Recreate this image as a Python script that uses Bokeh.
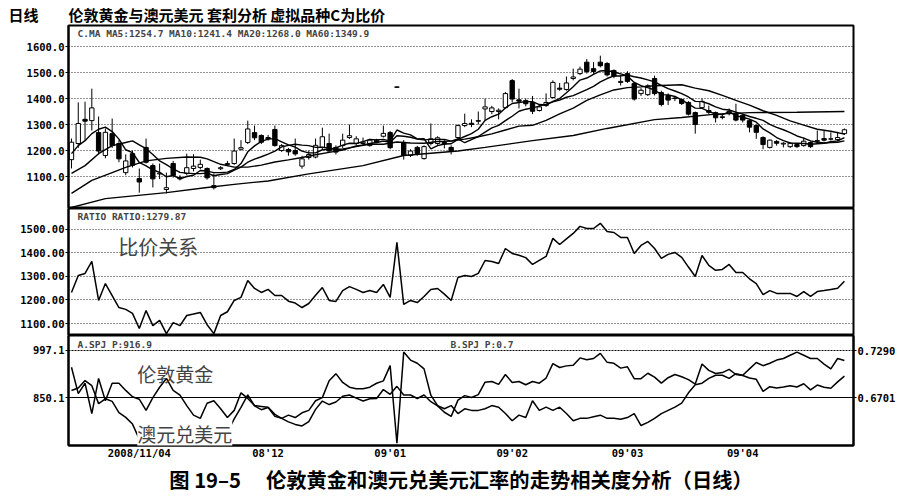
from bokeh.plotting import figure
from bokeh.models import (Range1d, LinearAxis, FixedTicker, NumeralTickFormatter,
                          Label, Span, ColumnDataSource, Title)
from bokeh.layouts import column
from bokeh.embed import file_html
from bokeh.resources import INLINE

# ---------------- data ----------------
close = [1232, 1304, 1313, 1364, 1198, 1270, 1219, 1168, 1160, 1143,
         1079, 1155, 1091, 1113, 1057, 1104, 1091, 1134, 1140, 1147,
         1095, 1057, 1134, 1150, 1198, 1211, 1283, 1249, 1232, 1245,
         1219, 1219, 1195, 1187, 1168, 1185, 1220, 1253, 1198, 1194,
         1240, 1257, 1245, 1232, 1240, 1232, 1266, 1211, 1445, 1181,
         1198, 1189, 1215, 1245, 1249, 1225, 1198, 1296, 1304, 1300,
         1313, 1368, 1364, 1355, 1419, 1398, 1390, 1380, 1351, 1368,
         1385, 1462, 1436, 1460, 1483, 1513, 1504, 1504, 1526, 1491,
         1487, 1466, 1466, 1398, 1432, 1449, 1419, 1377, 1394, 1402,
         1381, 1340, 1300, 1389, 1347, 1326, 1330, 1351, 1317, 1317,
         1290, 1270, 1223, 1240, 1228, 1228, 1228, 1215, 1236, 1215,
         1236, 1240, 1245, 1250, 1280]
opens = [1165, 1227, 1320, 1315, 1269, 1181, 1265, 1227, 1115, 1188,
         1092, 1212, 1142, 1110, 1050, 1150, 1097, 1112, 1131, 1135,
         1131, 1065, 1130, 1146, 1150, 1205, 1231, 1269, 1258, 1250,
         1281, 1200, 1204, 1200, 1140, 1173, 1175, 1212, 1227, 1212,
         1219, 1250, 1227, 1227, 1219, 1240, 1255, 1269, 1443, 1231,
         1181, 1212, 1169, 1227, 1227, 1231, 1212, 1250, 1296, 1305,
         1315, 1360, 1350, 1350, 1365, 1469, 1395, 1392, 1385, 1354,
         1373, 1404, 1440, 1435, 1477, 1496, 1540, 1515, 1540, 1535,
         1508, 1462, 1496, 1458, 1419, 1415, 1477, 1423, 1412, 1400,
         1396, 1385, 1346, 1365, 1354, 1346, 1327, 1342, 1342, 1335,
         1315, 1296, 1250, 1212, 1235, 1225, 1215, 1223, 1219, 1231,
         1238, 1246, 1244, 1242, 1265]
highs = [1246, 1385, 1388, 1438, 1331, 1285, 1323, 1240, 1185, 1200,
         1131, 1246, 1150, 1150, 1115, 1160, 1105, 1188, 1186, 1165,
         1135, 1112, 1140, 1160, 1246, 1240, 1315, 1296, 1262, 1260,
         1296, 1225, 1210, 1246, 1180, 1200, 1246, 1288, 1265, 1220,
         1265, 1300, 1255, 1250, 1245, 1245, 1296, 1275, 1446, 1240,
         1205, 1218, 1220, 1304, 1255, 1240, 1220, 1300, 1342, 1320,
         1350, 1400, 1372, 1362, 1425, 1475, 1438, 1400, 1410, 1375,
         1420, 1470, 1460, 1485, 1515, 1523, 1552, 1540, 1565, 1540,
         1512, 1490, 1505, 1462, 1440, 1455, 1488, 1430, 1420, 1410,
         1400, 1390, 1350, 1400, 1373, 1350, 1340, 1362, 1380, 1340,
         1320, 1300, 1255, 1242, 1240, 1232, 1232, 1228, 1250, 1235,
         1277, 1275, 1270, 1272, 1285]
lows = [1131, 1210, 1238, 1277, 1185, 1170, 1210, 1155, 1105, 1135,
        1038, 1150, 1058, 1090, 1035, 1096, 1085, 1105, 1120, 1128,
        1088, 1050, 1125, 1140, 1145, 1200, 1225, 1240, 1225, 1238,
        1215, 1195, 1180, 1180, 1130, 1165, 1170, 1205, 1195, 1185,
        1210, 1245, 1220, 1220, 1215, 1228, 1250, 1205, 1441, 1165,
        1175, 1180, 1165, 1220, 1222, 1208, 1185, 1245, 1290, 1290,
        1300, 1315, 1340, 1320, 1360, 1385, 1362, 1370, 1340, 1350,
        1368, 1400, 1430, 1430, 1470, 1490, 1496, 1495, 1520, 1485,
        1478, 1450, 1460, 1392, 1410, 1410, 1412, 1370, 1375, 1390,
        1375, 1335, 1265, 1360, 1340, 1308, 1320, 1335, 1312, 1308,
        1270, 1245, 1205, 1208, 1219, 1212, 1210, 1210, 1215, 1210,
        1230, 1235, 1238, 1236, 1260]

ma5 = [1188, 1219, 1238, 1265, 1282, 1290, 1273, 1244, 1203, 1192,
       1154, 1141, 1126, 1116, 1099, 1104, 1091, 1100, 1105, 1123,
       1121, 1115, 1115, 1117, 1127, 1150, 1195, 1218, 1235, 1244,
       1246, 1233, 1222, 1213, 1198, 1191, 1191, 1203, 1205, 1210,
       1221, 1228, 1227, 1234, 1243, 1241, 1243, 1236, 1279, 1267,
       1260, 1245, 1246, 1206, 1219, 1225, 1226, 1243, 1254, 1265,
       1282, 1316, 1330, 1340, 1364, 1381, 1385, 1388, 1388, 1377,
       1375, 1389, 1400, 1422, 1445, 1471, 1479, 1493, 1506, 1508,
       1502, 1495, 1487, 1462, 1450, 1442, 1433, 1415, 1414, 1408,
       1395, 1379, 1363, 1362, 1351, 1340, 1338, 1349, 1334, 1328,
       1321, 1309, 1283, 1268, 1250, 1238, 1229, 1228, 1227, 1224,
       1226, 1228, 1234, 1237, 1250]
ma10_bar = [0, 2, 4, 6, 8] + list(range(9, 115))
ma10 = [1112, 1142, 1188, 1219, 1231,
        1237, 1222, 1207, 1185, 1160, 1146, 1129, 1116, 1113, 1111,
        1111, 1113, 1103, 1108, 1111, 1125, 1136, 1155, 1167, 1176,
        1186, 1198, 1214, 1220, 1224, 1221, 1219, 1212, 1213, 1209,
        1204, 1206, 1210, 1215, 1220, 1227, 1231, 1236, 1232, 1257,
        1255, 1251, 1244, 1241, 1243, 1243, 1243, 1236, 1245, 1230,
        1242, 1254, 1271, 1287, 1297, 1315, 1332, 1351, 1359, 1364,
        1371, 1378, 1387, 1394, 1405, 1411, 1423, 1434, 1447, 1464,
        1477, 1487, 1487, 1490, 1484, 1479, 1472, 1464, 1451, 1438,
        1429, 1419, 1406, 1389, 1388, 1380, 1368, 1359, 1356, 1348,
        1340, 1331, 1324, 1316, 1301, 1289, 1280, 1269, 1256, 1248,
        1237, 1232, 1229, 1231, 1232, 1237]
ma20_bar = [0, 3, 6, 8, 11, 14, 17, 19] + list(range(20, 115, 2))
ma20 = [1035, 1085, 1115, 1135, 1160, 1170, 1175, 1174,
        1168, 1147, 1136, 1136, 1144, 1156, 1164, 1173, 1184, 1193,
        1202, 1218, 1224, 1224, 1233, 1229, 1228, 1235, 1236, 1244,
        1253, 1264, 1279, 1294, 1297, 1316, 1341, 1363, 1393, 1414,
        1433, 1442, 1445, 1449, 1451, 1453, 1440, 1430, 1412, 1393,
        1375, 1353, 1335, 1314, 1298, 1282, 1274, 1263]
ma60_bar = [0, 5, 14, 20, 24, 29, 35, 43, 49, 57, 61, 68, 74, 79, 86, 90, 95, 100, 107, 114]
ma60 = [981, 1015, 1038, 1058, 1070, 1083, 1110, 1142, 1181, 1198, 1212, 1238,
        1258, 1285, 1319, 1327, 1340, 1346, 1347, 1350]

gold = [872, 880, 903, 887, 831, 846, 838, 803, 788, 767,
        720, 755, 731, 760, 734, 750, 734, 748, 738, 739,
        726, 704, 744, 742, 783, 819, 858, 824, 812, 819,
        791, 785, 774, 766, 761, 775, 813, 839, 828, 836,
        854, 858, 848, 839, 846, 847, 875, 860, 885, 858,
        858, 847, 858, 837, 824, 804, 791, 842, 856, 850,
        859, 898, 900, 891, 922, 897, 900, 890, 900, 895,
        911, 956, 944, 949, 951, 974, 968, 972, 988, 960,
        957, 942, 946, 909, 909, 926, 914, 895, 912, 922,
        915, 906, 892, 955, 935, 925, 928, 938, 922, 919,
        911, 907, 869, 884, 880, 883, 887, 883, 893, 874,
        889, 882, 879, 899, 916.9]
aud = [0.708, 0.675, 0.688, 0.650, 0.694, 0.666, 0.688, 0.688, 0.679, 0.671,
       0.668, 0.654, 0.670, 0.683, 0.694, 0.679, 0.673, 0.660, 0.648, 0.644,
       0.663, 0.666, 0.656, 0.645, 0.654, 0.676, 0.669, 0.660, 0.659, 0.658,
       0.649, 0.644, 0.648, 0.645, 0.651, 0.654, 0.666, 0.670, 0.691, 0.700,
       0.689, 0.683, 0.681, 0.681, 0.683, 0.688, 0.691, 0.710, 0.613, 0.727,
       0.717, 0.713, 0.706, 0.673, 0.660, 0.656, 0.660, 0.650, 0.656, 0.654,
       0.654, 0.656, 0.660, 0.658, 0.650, 0.641, 0.648, 0.645, 0.666, 0.654,
       0.658, 0.654, 0.658, 0.650, 0.641, 0.644, 0.644, 0.646, 0.648, 0.644,
       0.644, 0.643, 0.645, 0.650, 0.635, 0.639, 0.644, 0.650, 0.654, 0.658,
       0.663, 0.676, 0.686, 0.688, 0.694, 0.698, 0.698, 0.694, 0.700, 0.698,
       0.706, 0.714, 0.710, 0.713, 0.717, 0.719, 0.723, 0.727, 0.723, 0.719,
       0.719, 0.712, 0.706, 0.719, 0.7164]

top_ticks = [1100, 1200, 1300, 1400, 1500, 1600]
ratio_ticks = [1100, 1200, 1300, 1400, 1500]
gold_ticks = [850.1, 997.1]
aud_ticks = [0.6701, 0.7290]
month_pos = [10, 29, 47, 65, 82, 99]
month_lab = ["2008/11/04", "08'12", "09'01", "09'02", "09'03", "09'04"]

# ---------------- drawing ----------------
N = len(close)
bars = list(range(N))
XR = Range1d(-0.44, 115.34)
MONO = "DejaVu Sans Mono"
CJK = "Noto Sans CJK SC"


def style_axis(ax):
    ax.axis_line_width = 2
    ax.major_tick_out = 3
    ax.major_tick_in = 0
    ax.minor_tick_line_color = None
    ax.major_label_standoff = 1
    ax.major_label_text_font = MONO
    ax.major_label_text_font_size = "10.5px"
    ax.major_label_text_font_style = "bold"
    ax.major_label_text_color = "black"


def make_fig(h, yr, top_b=0, bot_b=0, xaxis=False):
    p = figure(frame_width=785, frame_height=h, x_range=XR, y_range=yr,
               output_backend="svg", toolbar_location=None,
               min_border_left=68, min_border_right=54,
               min_border_top=top_b, min_border_bottom=bot_b,
               x_axis_location="below" if xaxis else None)
    p.outline_line_color = "black"
    p.outline_line_width = 2
    p.background_fill_color = "white"
    p.border_fill_color = "white"
    p.xgrid.visible = False
    p.ygrid.grid_line_color = "black"
    p.ygrid.grid_line_dash = "1 2"
    p.ygrid.grid_line_alpha = 0.85
    for ax in p.yaxis:
        style_axis(ax)
    return p


# top panel: candles + MAs
p1 = make_fig(183, Range1d(977, 1681), top_b=25)
p1.yaxis.ticker = FixedTicker(ticks=top_ticks)
p1.yaxis.formatter = NumeralTickFormatter(format="0.0")
body_top = [max(o, c) for o, c in zip(opens, close)]
body_bot = [min(o, c) for o, c in zip(opens, close)]
fills = ["white" if c > o else "black" for o, c in zip(opens, close)]
src = ColumnDataSource(dict(x=bars, hi=highs, lo=lows, t=body_top, b=body_bot, f=fills))
p1.segment(x0="x", y0="hi", x1="x", y1="lo", source=src, line_color="black", line_width=1)
p1.vbar(x="x", width=0.64, top="t", bottom="b", fill_color="f", line_color="black",
        line_width=1, source=src)
for xs, ys in ((bars, ma5), (ma10_bar, ma10), (ma20_bar, ma20), (ma60_bar, ma60)):
    p1.line(xs, ys, line_color="black", line_width=1.4)
p1.add_layout(Label(x=0.9, y=1673, text="C.MA  MA5:1254.7  MA10:1241.4  MA20:1268.0  MA60:1349.9",
                    text_font=MONO, text_font_size="9.5px", text_font_style="bold",
                    text_baseline="top"))
p1.add_layout(Title(text="日线　　伦敦黄金与澳元美元 套利分析 虚拟品种C为比价",
                    align="left", offset=-60, standoff=2, text_font=CJK,
                    text_font_size="15px", text_font_style="bold", text_color="black"),
              "above")

# ratio panel
p2 = make_fig(127, Range1d(1049, 1589))
p2.yaxis.ticker = FixedTicker(ticks=ratio_ticks)
p2.yaxis.formatter = NumeralTickFormatter(format="0.00")
p2.line(bars, close, line_color="black", line_width=1.5)
p2.add_layout(Label(x=0.9, y=1577, text="RATIO  RATIO:1279.87", text_font=MONO,
                    text_font_size="9.5px", text_font_style="bold", text_baseline="top"))
p2.add_layout(Label(x=6.9, y=1428, text="比价关系", text_font=CJK, text_font_size="20px",
                    text_baseline="middle"))

# bottom panel: gold (left axis) and AUD (right axis)
p3 = make_fig(110, Range1d(700, 1044), bot_b=53, xaxis=True)
p3.extra_y_ranges = {"aud": Range1d(0.6100, 0.7478)}
p3.yaxis.ticker = FixedTicker(ticks=gold_ticks)
p3.yaxis.formatter = NumeralTickFormatter(format="0.0")
p3.ygrid.visible = False
rax = LinearAxis(y_range_name="aud", ticker=FixedTicker(ticks=aud_ticks),
                 formatter=NumeralTickFormatter(format="0.0000"))
style_axis(rax)
p3.add_layout(rax, "right")
p3.add_layout(Span(location=gold_ticks[1], dimension="width", line_color="black",
                   line_dash="2 1", line_width=1))
p3.add_layout(Span(location=gold_ticks[0], dimension="width", line_color="black",
                   line_width=1))
p3.line(bars, gold, line_color="black", line_width=1.5)
p3.line(bars, aud, y_range_name="aud", line_color="black", line_width=1.5)
xa = p3.xaxis[0]
xa.ticker = FixedTicker(ticks=month_pos)
xa.major_label_overrides = {pos: lab for pos, lab in zip(month_pos, month_lab)}
style_axis(xa)
xa.major_tick_out = 0
xa.major_label_standoff = 1
p3.add_layout(Label(x=0.9, y=1031.5, text="A.SPJ  P:916.9", text_font=MONO,
                    text_font_size="9.5px", text_font_style="bold", text_baseline="top"))
p3.add_layout(Label(x=55.9, y=1031.5, text="B.SPJ  P:0.7", text_font=MONO,
                    text_font_size="9.5px", text_font_style="bold", text_baseline="top"))
p3.add_layout(Label(x=9.7, y=925, text="伦敦黄金", text_font=CJK, text_font_size="19px",
                    text_baseline="middle"))
p3.add_layout(Label(x=9.7, y=737, text="澳元兑美元", text_font=CJK, text_font_size="19px",
                    text_baseline="middle", background_fill_color="white"))
p3.add_layout(Title(text="图 19–5　 伦敦黄金和澳元兑美元汇率的走势相关度分析（日线）",
                    align="center", offset=-4, standoff=1, text_font=CJK,
                    text_font_size="20.3px", text_font_style="bold", text_color="black"),
              "below")

layout = column(p1, p2, p3, spacing=0)
open("out.html", "w").write(file_html(layout, INLINE))
